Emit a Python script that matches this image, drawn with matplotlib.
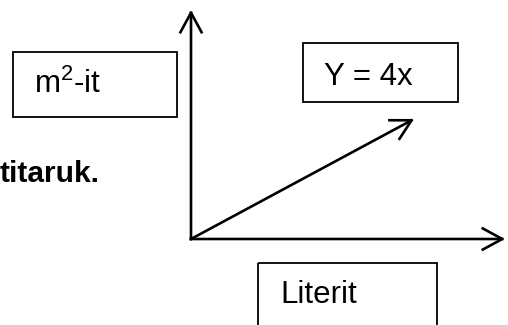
import matplotlib
matplotlib.use("Agg")
import matplotlib.pyplot as plt
from matplotlib.patches import Rectangle, FancyArrowPatch

plt.rcParams['font.family'] = ['Liberation Sans', 'DejaVu Sans']
plt.rcParams['mathtext.fontset'] = 'custom'
plt.rcParams['mathtext.rm'] = 'Liberation Sans'

# diagram data (pixel space of the 508x325 picture)
origin = (191, 239)
axis_ends = [(191, 10), (505, 239)]      # y axis tip, x axis tip
line_end = (414, 119)                     # Y = 4x arrow tip
box_labels = [r'm$^\mathrm{2}$-it', 'Y = 4x', 'Literit']
side_text = 'titaruk.'

# layout
boxes = [(13, 52, 164, 65), (303, 43, 155, 59), (258, 263, 179, 80)]
text_pos = [(34, 93), (324, 85), (280, 303)]

fig = plt.figure(figsize=(5.08, 3.25), dpi=100)
ax = fig.add_axes([0, 0, 1, 1])
ax.set_xlim(0, 508)
ax.set_ylim(325, 0)
ax.axis('off')

# axes and the line, all with open arrow heads
for end in axis_ends + [line_end]:
    arr = FancyArrowPatch(origin, end, arrowstyle='->,head_length=0.7,head_width=0.38',
                          mutation_scale=20, lw=1.9, color='black',
                          shrinkA=0, shrinkB=0, capstyle='projecting')
    ax.add_patch(arr)

# label boxes
for (x, y, w, h), label, (tx, ty) in zip(boxes, box_labels, text_pos):
    ax.add_patch(Rectangle((x, y), w, h, fill=False, lw=1.3, edgecolor='black'))
    ax.text(tx, ty, label, fontsize=22.5, ha='left', va='baseline')

ax.text(100, 182, side_text, fontsize=21.5, fontweight='bold', ha='right', va='baseline')

fig.savefig('out.png', dpi=100)
